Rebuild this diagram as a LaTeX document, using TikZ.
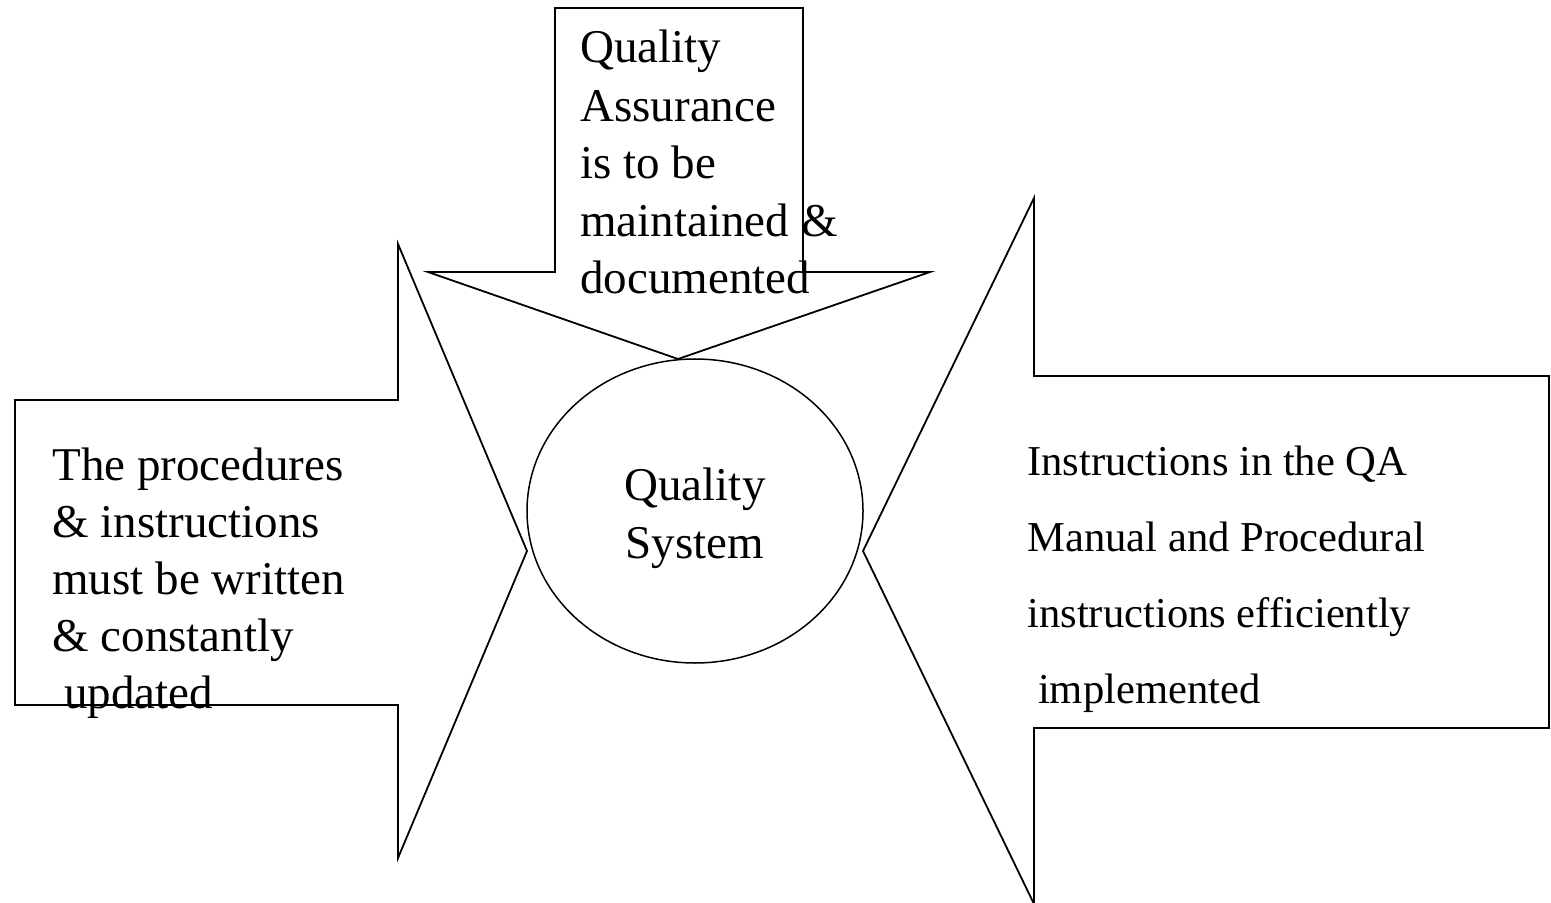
\documentclass[tikz,border=0pt]{standalone}
\usepackage{fontspec}
\setmainfont{Liberation Serif}
\usetikzlibrary{shapes.geometric}

\tikzstyle{blockarrow} = [draw, line width=0.9pt, line join=miter]
\tikzstyle{hub} = [draw, ellipse, line width=0.75pt, inner sep=0pt, minimum width=168pt, minimum height=152pt]
\tikzstyle{bigtext} = [anchor=base west, inner sep=0pt, font=\fontsize{23.5}{28}\selectfont]
\tikzstyle{smalltext} = [anchor=base west, inner sep=0pt, font=\fontsize{21.3}{26}\selectfont]
\newcommand{\pxunit}{0.5pt}

\begin{document}
\begin{tikzpicture}[x=\pxunit, y=-\pxunit]
    \useasboundingbox (0,0) rectangle (1551,903);
    % The three block arrows pointing at the hub
    \path[blockarrow] (555,8) -- (803,8) -- (803,272) -- (930,272) -- (678,359)
        -- (428,272) -- (555,272) -- cycle;
    \path[blockarrow] (15,400) -- (398,400) -- (398,244) -- (527,551)
        -- (398,858) -- (398,705) -- (15,705) -- cycle;
    \path[blockarrow] (1549,376) -- (1034,376) -- (1034,198) -- (863,551)
        -- (1034,904) -- (1034,728) -- (1549,728) -- cycle;
    % The hub in the middle
    \node[hub] (qs) at (695,511) {};
    \foreach \i/\ypos/\txt in {1/500/Quality, 2/558/System}
        \node[bigtext, anchor=base] (qs\i) at (695,\ypos) {\txt};
    % Text of the top arrow
    \foreach \i/\ypos/\txt in {1/63/Quality, 2/122/Assurance, 3/179/is to be,
                               4/237/maintained \&, 5/294/documented}
        \node[bigtext] (qa\i) at (580,\ypos) {\txt};
    % Text of the left arrow
    \foreach \i/\ypos/\txt in {1/480/The procedures, 2/537/\& instructions,
                               3/594/must be written, 4/651/\& constantly, 5/708/\ updated}
        \node[bigtext] (proc\i) at (52,\ypos) {\txt};
    % Text of the right arrow
    \foreach \i/\ypos/\txt in {1/475/Instructions in the QA, 2/551/Manual and Procedural,
                               3/627/instructions efficiently, 4/703/\ implemented}
        \node[smalltext] (impl\i) at (1027,\ypos) {\txt};
\end{tikzpicture}
\end{document}
